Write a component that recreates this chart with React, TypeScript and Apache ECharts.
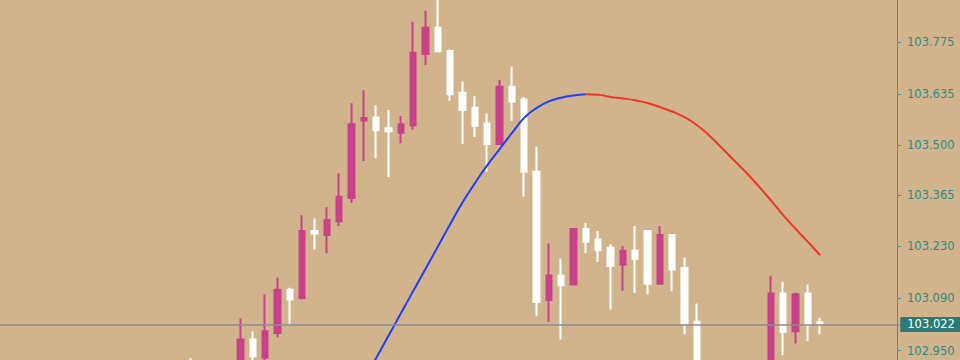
import React, { useEffect, useRef } from "react";
import * as echarts from "echarts";

// ---- data ----
// Each candle: open, close, low, high (null = candle fully outside the visible price range)
const opens: (number | null)[] = [
  102.915, null, null, null, 102.915, 102.98, 102.931, 102.997, 103.113, 103.091,
  103.27, 103.259, 103.296, 103.358, 103.565, 103.573, 103.544, 103.532, 103.552, 103.743,
  103.813, 103.751, 103.639, 103.599, 103.557, 103.502, 103.655, 103.621, 103.428, 103.085,
  103.151, 103.127, 103.275, 103.247, 103.225, 103.18, 103.217, 103.27, 103.129, 103.259,
  103.171, 103.027, null, null, null, null, null, 102.9, 103.103, 103.002,
  103.103, 103.026,
];
const closes: (number | null)[] = [
  102.895, null, null, null, 102.98, 102.935, 103.002, 103.113, 103.087, 103.27,
  103.263, 103.299, 103.361, 103.555, 103.572, 103.539, 103.536, 103.555, 103.746, 103.813,
  103.75, 103.635, 103.593, 103.551, 103.502, 103.655, 103.615, 103.428, 103.08, 103.151,
  103.125, 103.275, 103.241, 103.218, 103.176, 103.217, 103.195, 103.129, 103.259, 103.167,
  103.022, 102.89, null, null, null, null, null, 103.103, 103.0, 103.101,
  103.02, 103.022,
];
const lows: (number | null)[] = [
  102.885, null, null, null, 102.905, 102.915, 102.915, 102.986, 103.022, 103.087,
  103.22, 103.21, 103.283, 103.345, 103.457, 103.464, 103.414, 103.504, 103.541, 103.713,
  103.748, 103.618, 103.502, 103.521, 103.428, 103.5, 103.564, 103.361, 103.042, 103.027,
  102.98, 103.126, 103.21, 103.187, 103.06, 103.11, 103.104, 103.1, 103.128, 103.109,
  102.994, 102.87, null, null, null, null, null, 102.89, 102.938, 102.969,
  102.976, 102.994,
];
const highs: (number | null)[] = [
  102.93, null, null, null, 103.036, 103.002, 103.1, 103.145, 103.118, 103.312,
  103.303, 103.333, 103.424, 103.611, 103.646, 103.606, 103.593, 103.577, 103.829, 103.858,
  103.9, 103.755, 103.669, 103.63, 103.584, 103.673, 103.709, 103.628, 103.495, 103.236,
  103.196, 103.276, 103.291, 103.27, 103.234, 103.229, 103.283, 103.271, 103.283, 103.26,
  103.199, 103.076, null, null, null, null, null, 103.15, 103.134, 103.105,
  103.127, 103.038,
];
// Smoothed moving average, one value per candle
const maValues: (number | null)[] = [
  null, null, null, null, null, null, null, null, null, null,
  null, null, null, null, 102.871, 102.93, 102.99, 103.049, 103.109, 103.168,
  103.228, 103.288, 103.346, 103.397, 103.445, 103.488, 103.531, 103.572, 103.598, 103.616,
  103.626, 103.632, 103.635, 103.634, 103.628, 103.624, 103.619, 103.612, 103.601, 103.589,
  103.574, 103.553, 103.525, 103.493, 103.459, 103.426, 103.39, 103.352, 103.312, 103.276,
  103.241, 103.205,
];
const priceTicks = [102.95, 103.09, 103.23, 103.365, 103.5, 103.635, 103.775];
const currentPrice = 103.022;
const yMin = 102.925;
const yMax = 103.887;

// ---- layout of the bar slots ----
const LEADING = 15;
const TRAILING = 6;
const SLOT = 12.37;

const BG = "#d2b48c";
const BULL = "#c8418a";
const BEAR = "#ffffff";
const AXIS_TEXT = "#2f8985";
const AXIS_LINE = "#4a8c8c";
const FONT = "DejaVu Sans";

export default function App() {
  const ref = useRef<HTMLDivElement>(null);

  useEffect(() => {
    document.body.style.margin = "0";
    if (!ref.current) return;
    const chart = echarts.init(ref.current, undefined, { renderer: "svg" });

    const n = opens.length;
    const total = LEADING + n + TRAILING;
    const categories = Array.from({ length: total }, (_, j) => String(j - LEADING));
    const candleData: any[] = [];
    const blueData: any[] = [];
    const redData: any[] = [];
    let peak = 0;
    maValues.forEach((v, i) => {
      if (v != null && (maValues[peak] == null || v > (maValues[peak] as number))) peak = i;
    });
    for (let j = 0; j < total; j++) {
      const i = j - LEADING;
      if (i >= 0 && i < n && opens[i] != null) {
        candleData.push([opens[i], closes[i], lows[i], highs[i]]);
      } else {
        candleData.push("-");
      }
      const m = i >= 0 && i < n ? maValues[i] : null;
      blueData.push(m != null && i <= peak ? m : null);
      redData.push(m != null && i >= peak ? m : null);
    }

    const gridLeft = 189 - (LEADING + 0.5) * SLOT;
    const gridWidth = total * SLOT;
    const gridRightEdge = gridLeft + gridWidth;
    const axisX = 897;

    chart.setOption({
      animation: false,
      backgroundColor: BG,
      grid: {
        left: gridLeft,
        width: gridWidth,
        top: 0,
        bottom: 0,
      },
      xAxis: {
        type: "category",
        data: categories,
        boundaryGap: true,
        show: false,
      },
      yAxis: {
        type: "value",
        position: "right",
        min: yMin,
        max: yMax,
        offset: axisX - gridRightEdge,
        scale: true,
        splitLine: { show: false },
        axisLine: { show: true, lineStyle: { color: AXIS_LINE, width: 1 } },
        axisTick: {
          show: true,
          length: 4,
          customValues: priceTicks,
          lineStyle: { color: AXIS_LINE, width: 1 },
        },
        axisLabel: {
          customValues: priceTicks,
          formatter: (v: number) => v.toFixed(3),
          color: AXIS_TEXT,
          fontFamily: FONT,
          fontSize: 11.5,
          margin: 10,
        },
      },
      series: [
        {
          type: "candlestick",
          data: candleData,
          barWidth: 6,
          clip: true,
          itemStyle: {
            color: BULL,
            color0: BEAR,
            borderColor: BULL,
            borderColor0: BEAR,
            borderWidth: 2,
          },
          markLine: {
            silent: true,
            symbol: ["none", "none"],
            animation: false,
            lineStyle: { color: "#8a8e96", width: 1.5, type: "solid" },
            label: {
              show: true,
              position: "end",
              distance: 0,
              formatter: () => currentPrice.toFixed(3),
              color: "#ffffff",
              backgroundColor: "#2a7b78",
              padding: [2, 8, 1, 7],
              fontFamily: FONT,
              fontSize: 11.5,
            },
            data: [{ yAxis: currentPrice }],
          },
          z: 2,
        },
        {
          type: "line",
          data: blueData,
          smooth: true,
          symbol: "none",
          lineStyle: { color: "#1f3dff", width: 2 },
          z: 3,
        },
        {
          type: "line",
          data: redData,
          smooth: true,
          symbol: "none",
          lineStyle: { color: "#f0362a", width: 2 },
          z: 3,
        },
      ],
    });

    return () => chart.dispose();
  }, []);

  return <div ref={ref} style={{ width: 960, height: 360 }} />;
}
